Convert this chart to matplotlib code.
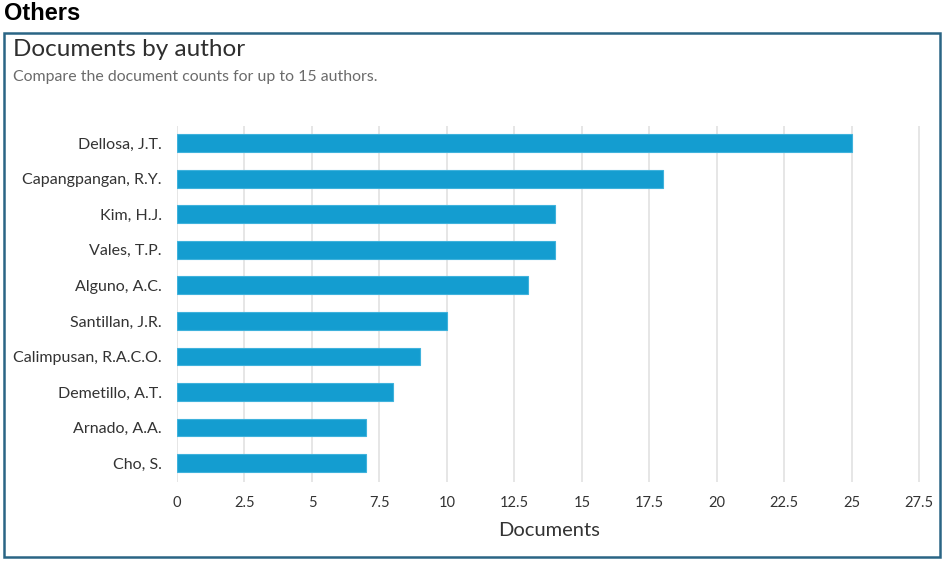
import matplotlib.pyplot as plt
from matplotlib.patches import Rectangle

authors = ["Dellosa, J.T.", "Capangpangan, R.Y.", "Kim, H.J.", "Vales, T.P.",
           "Alguno, A.C.", "Santillan, J.R.", "Calimpusan, R.A.C.O.",
           "Demetillo, A.T.", "Arnado, A.A.", "Cho, S."]
documents = [25, 18, 14, 14, 13, 10, 9, 8, 7, 7]
xticks = [0, 2.5, 5, 7.5, 10, 12.5, 15, 17.5, 20, 22.5, 25, 27.5]
xtick_labels = ["0", "2.5", "5", "7.5", "10", "12.5", "15", "17.5", "20", "22.5", "25", "27.5"]

plt.rcParams['font.family'] = ['Lato', 'DejaVu Sans']

fig = plt.figure(figsize=(9.44, 5.61), dpi=100)

# panel header and frame
fig.text(4 / 944, 1 - 14 / 561, "Others", family="Liberation Sans", fontweight="bold",
         fontsize=17, va="center", ha="left", color="black")
fig.patches.append(Rectangle((4 / 944, 4 / 561), 936 / 944, 524 / 561,
                             transform=fig.transFigure, fill=False,
                             edgecolor="#2a6585", linewidth=1.8))
fig.text(13 / 944, 1 - 49 / 561, "Documents by author", fontsize=17.5,
         color="#2e2e2e", va="center", ha="left")
fig.text(13 / 944, 1 - 77 / 561, "Compare the document counts for up to 15 authors.",
         fontsize=11.4, color="#6b6b6b", va="center", ha="left")

ax = fig.add_axes([177 / 944, 1 - 482 / 561, 745 / 944, 356 / 561])
ypos = list(range(len(authors)))
ax.barh(ypos, documents, height=0.5, color="#149dd0", edgecolor="#3fb2dc",
        linewidth=0.8, zorder=3)
ax.set_ylim(len(authors) - 0.47, -0.48)
ax.set_xlim(0, 27.6)
ax.set_yticks(ypos)
ax.set_yticklabels(authors, fontsize=11.5, color="#333333")
ax.set_xticks(xticks)
ax.set_xticklabels(xtick_labels, fontsize=10.5, color="#333333")
ax.tick_params(axis="y", length=0, pad=11)
ax.tick_params(axis="x", length=0, pad=10)
ax.grid(axis="x", color="#e2e2e2", linewidth=1.2, zorder=0)
for s in ax.spines.values():
    s.set_visible(False)
ax.set_xlabel("Documents", fontsize=14.5, color="#333333", labelpad=9)

fig.savefig("out.png", dpi=100)
